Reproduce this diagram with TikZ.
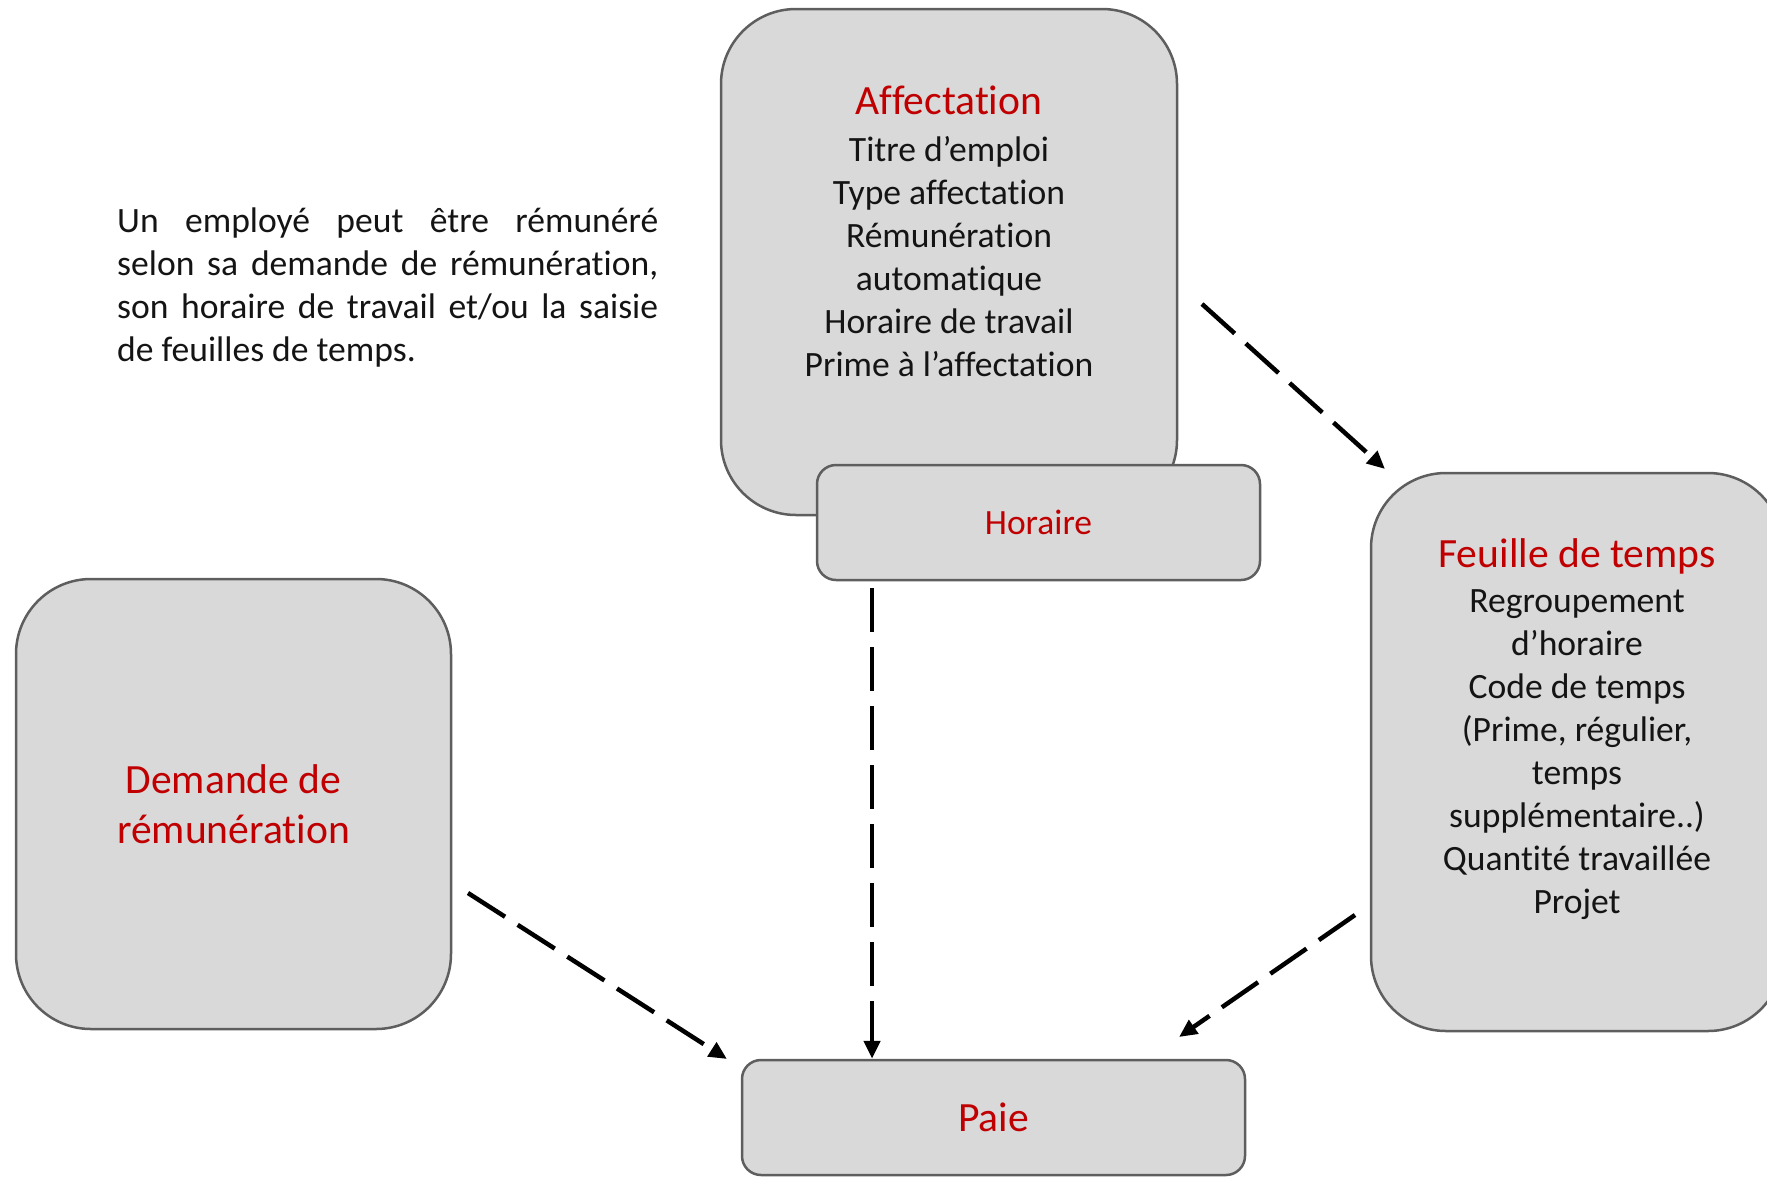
\documentclass[tikz,border=0pt]{standalone}
\usepackage{fontspec}
\setmainfont{Carlito}[Ligatures=NoCommon]
\usetikzlibrary{arrows.meta}
\definecolor{boxfill}{HTML}{D9D9D9}
\definecolor{boxline}{HTML}{5E5E5E}
\definecolor{titlered}{HTML}{C00000}
\definecolor{bodytext}{HTML}{141414}
\begin{document}
\begin{tikzpicture}[x=1pt,y=-1pt,
 bigbox/.style={draw=boxline, fill=boxfill, line width=2.5pt, rounded corners=75pt, inner sep=0pt},
 smallbox/.style={draw=boxline, fill=boxfill, line width=2.5pt, rounded corners=19pt, inner sep=0pt},
 redtitle/.style={text=titlered, font=\fontsize{41.6}{50}\selectfont, align=center},
 redsmall/.style={text=titlered, font=\fontsize{35.5}{43}\selectfont},
 items/.style={text=bodytext, font=\fontsize{35.6}{43}\selectfont, align=center, inner sep=0pt, anchor=north},
 flow/.style={line width=4.5pt, dash pattern=on 44pt off 15pt, -{Triangle[length=18pt,width=16pt]}}]
\useasboundingbox (0,0) rectangle (1767,1179);
\clip (0,0) rectangle (1767,1179);

% boxes
\node[bigbox, minimum width=456pt, minimum height=506pt] (aff) at (949,262) {};
\node[smallbox, minimum width=443pt, minimum height=115pt, redsmall] (hor) at (1038.5,522.5) {Horaire};
\node[bigbox, minimum width=412pt, minimum height=558pt] (feu) at (1577,752) {};
\node[bigbox, minimum width=435pt, minimum height=450pt, redtitle] (dem) at (233.5,804) {Demande de\\rémunération};
\node[smallbox, minimum width=503pt, minimum height=115pt, text=titlered, font=\fontsize{41.6}{50}\selectfont] (paie) at (993.5,1117.5) {Paie};

% texts inside the tall boxes
\node[redtitle, anchor=base, inner sep=0pt] (afft) at (949,114.5) {Affectation};
\node[items] (affi) at (949,136.5) {Titre d’emploi\\Type affectation\\Rémunération\\automatique\\Horaire de travail\\Prime à l’affectation};
\node[redtitle, anchor=base, inner sep=0pt] (feut) at (1577,567.5) {Feuille de temps};
\node[items] (feui) at (1577,589.5) {Regroupement\\d’horaire\\Code de temps\\(Prime, régulier,\\temps\\supplémentaire..)\\Quantité travaillée\\Projet};

% paragraph
\node[anchor=north west, inner sep=0pt, text width=541pt, align=justify, text=bodytext, font=\fontsize{35.6}{43}\selectfont] (intro) at (117,207.5) {Un employé peut être rémunéré\linebreak selon sa demande de rémunération,\linebreak son horaire de travail et/ou la saisie\linebreak de feuilles de temps.};

% connectors
\coordinate (a1s) at (1202,304);
\coordinate (a1e) at (1385,469);
\draw[flow] (a1s) -- (a1e);
\coordinate (vx) at (872,0);
\draw[flow, shorten <=7pt] (vx |- hor.south) -- (vx |- paie.north);
\coordinate (a3s) at (468,893);
\coordinate (a3e) at (727,1059);
\draw[flow] (a3s) -- (a3e);
\coordinate (a4s) at (1355,915);
\coordinate (a4e) at (1179,1037);
\draw[flow] (a4s) -- (a4e);
\end{tikzpicture}
\end{document}
